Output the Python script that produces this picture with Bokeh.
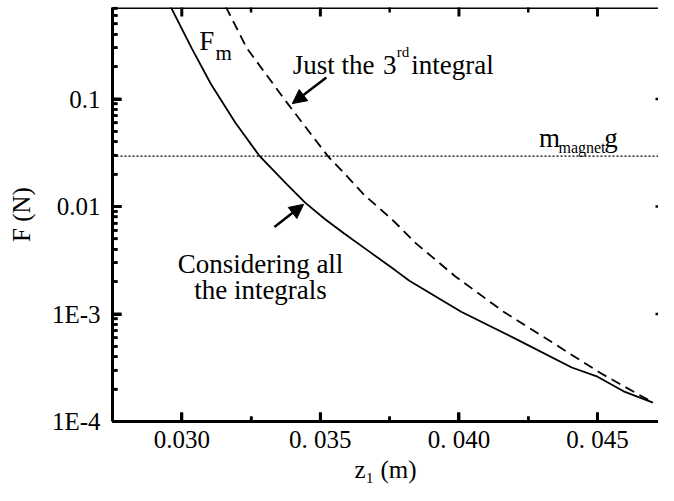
import math
from bokeh.plotting import figure
from bokeh.models import FixedTicker, Label, Arrow, NormalHead, Span
from bokeh.embed import file_html
from bokeh.resources import INLINE

# ---- data -------------------------------------------------------------
# "Considering all the integrals" (solid)
z_all = [0.02960, 0.03036, 0.03105, 0.03194, 0.03281, 0.03375, 0.03445,
         0.03516, 0.03586, 0.03668, 0.03773, 0.03821, 0.04008, 0.04219,
         0.04407, 0.04500, 0.04594, 0.04700]
F_all = [0.72, 0.296, 0.138, 0.0597, 0.0294, 0.01648, 0.01086,
         0.00766, 0.00560, 0.00395, 0.00252, 0.00204, 0.00105, 0.000562,
         0.000318, 0.000261, 0.000191, 0.000150]

# "Just the 3rd integral" (dashed)
z_3rd = [0.03159, 0.03235, 0.03380, 0.03527, 0.03587, 0.03657, 0.03763,
         0.03845, 0.03985, 0.04161, 0.04337, 0.04512, 0.04700]
F_3rd = [0.72, 0.296, 0.092, 0.0294, 0.0203, 0.0129, 0.00740,
         0.00454, 0.00226, 0.00105, 0.000543, 0.000281, 0.000150]

# weight of the magnet, m_magnet * g (N)
F_weight = 0.0294

X_LO, X_HI = 0.0275, 0.0472
Y_LO, Y_HI = 1e-4, 0.71

x_major = [0.030, 0.035, 0.040, 0.045]
x_major_labels = ["0.030", "0. 035", "0. 040", "0. 045"]
x_minor = [0.0325, 0.0375, 0.0425]
y_major = [1e-4, 1e-3, 1e-2, 1e-1]
y_major_labels = ["1E-4", "1E-3", "0.01", "0.1"]
y_minor = [m * d for d in [1e-4, 1e-3, 1e-2, 1e-1] for m in range(2, 10)
           if m * d < Y_HI]

FONT = "Liberation Serif"
FS = "25px"
AFS = "27px"

W, H = 658, 485
BL, BB, BT = 112, 64, 7

# ---- figure -----------------------------------------------------------
p = figure(width=W, height=H, x_range=(X_LO, X_HI),
           y_range=(Y_LO, Y_HI), y_axis_type="log",
           output_backend="svg", toolbar_location=None,
           min_border_left=BL, min_border_right=0, min_border_top=BT,
           min_border_bottom=BB)
p.outline_line_color = None
p.grid.grid_line_color = None


def style(ax):
    ax.axis_line_width = 3
    ax.axis_line_color = "black"
    ax.major_tick_in = 9
    ax.major_tick_out = 0
    ax.minor_tick_in = 5
    ax.minor_tick_out = 0
    ax.major_tick_line_width = 3
    ax.minor_tick_line_width = 2.5
    ax.major_tick_line_color = "black"
    ax.minor_tick_line_color = "black"
    ax.major_label_text_font = FONT
    ax.major_label_text_font_size = FS
    ax.major_label_text_color = "black"
    ax.axis_label_text_font = FONT
    ax.axis_label_text_font_size = FS
    ax.axis_label_text_font_style = "normal"
    ax.axis_label_text_color = "black"


xa = p.xaxis[0]
style(xa)
xa.ticker = FixedTicker(ticks=x_major, minor_ticks=x_minor)
xa.major_label_overrides = dict(zip(x_major, x_major_labels))
xa.major_label_standoff = 4
xa.axis_label = "z\u2081 (m)"
xa.axis_label_standoff = 0

ya = p.yaxis[0]
style(ya)
ya.ticker = FixedTicker(ticks=y_major, minor_ticks=y_minor)
ya.major_label_overrides = dict(zip(y_major, y_major_labels))
ya.major_label_standoff = 12
ya.axis_label = "F (N)"
ya.axis_label_standoff = 14

# ---- curves -----------------------------------------------------------
p.line(z_all, F_all, line_color="black", line_width=1.8)
p.line(z_3rd, F_3rd, line_color="black", line_width=1.8, line_dash="10 6")
p.add_layout(Span(location=F_weight, dimension="width", line_color="black",
                  line_width=1.3, line_dash="2 2"))

# ---- annotations ------------------------------------------------------


def lab(x, y, text, size=AFS, align="left"):
    p.add_layout(Label(x=x, y=y, text=text, text_font=FONT,
                       text_font_size=size, text_align=align,
                       text_baseline="alphabetic", text_color="black"))


lab(0.03063, 0.343, "F")
lab(0.03122, 0.267, "m", size="21px")
lab(0.03400, 0.2077, "Just the")
lab(0.03726, 0.2077, "3")
lab(0.03776, 0.2765, "rd", size="15px")
lab(0.03828, 0.2077, "integral")
lab(0.04289, 0.04336, "m")
lab(0.04359, 0.03540, "magnet", size="16px")
lab(0.04524, 0.04336, "g")
lab(0.03284, 0.002929, "Considering all", align="center")
lab(0.03284, 0.001667, "the integrals", align="center")

head = dict(size=14, fill_color="black", line_color="black")
p.add_layout(Arrow(end=NormalHead(**head), x_start=0.035217, y_start=0.1583,
                   x_end=0.033988, y_end=0.0906, line_width=2.5))
p.add_layout(Arrow(end=NormalHead(**head), x_start=0.033341, y_start=0.006442,
                   x_end=0.034395, y_end=0.01047, line_width=2.5))

# ---- box edges and inward tick marks, drawn last (overlay level) ---------
for loc, dim in [(X_LO, "height"), (Y_LO, "width"), (Y_HI, "width")]:
    p.add_layout(Span(location=loc, dimension=dim, line_color="black",
                      line_width=3, level="overlay"))

# screen scale of the frame, used only to give the ticks a length in px
px_per_x = (W - BL) / (X_HI - X_LO)
px_per_dec = (H - BT - BB) / math.log10(Y_HI / Y_LO)


def tick_v(xs, y, px, lw):
    p.segment(x0=xs, y0=[y] * len(xs), x1=xs,
              y1=[y * 10 ** (px / px_per_dec)] * len(xs),
              line_color="black", line_width=lw, level="overlay")


def tick_h(ys, x, px, lw):
    p.segment(x0=[x] * len(ys), y0=ys, x1=[x + px / px_per_x] * len(ys),
              y1=ys, line_color="black", line_width=lw, level="overlay")


tick_v(x_major, Y_LO, 9, 3)
tick_v(x_minor, Y_LO, 5, 2.5)
tick_v(x_major, Y_HI, -9, 3)
tick_v(x_minor, Y_HI, -5, 2.5)
tick_h(y_major, X_LO, 9, 3)
tick_h(y_minor, X_LO, 5, 2.5)
tick_h(y_major, X_HI, -3, 2.5)

open("out.html", "w").write(file_html(p, INLINE))
